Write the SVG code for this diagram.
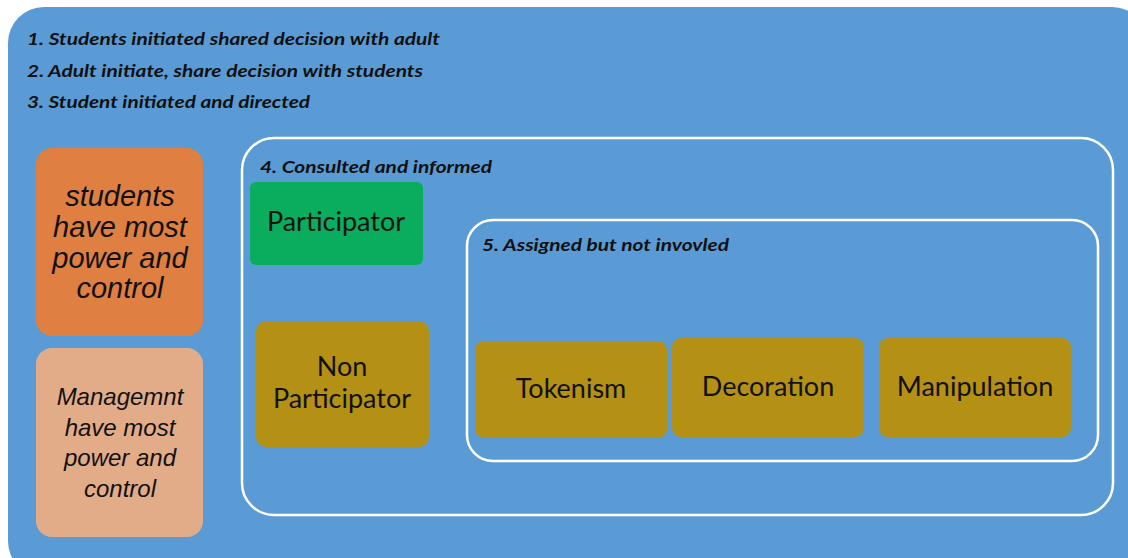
<svg xmlns="http://www.w3.org/2000/svg" width="1128" height="558" viewBox="0 0 1128 558">
<style>
.hdr{font-family:Lato,"Open Sans",sans-serif;font-weight:bold;font-style:italic;font-size:17px;fill:#111}
.cal{font-family:Lato,"Open Sans",sans-serif;font-size:27px;fill:#111;text-anchor:middle}
.ari{font-family:"Liberation Sans",Arial,sans-serif;font-style:italic;fill:#111;text-anchor:middle}
.frame{fill:none;stroke:#fff;stroke-width:2.5}
.olive{fill:#B49014}
</style>
<rect width="1128" height="558" fill="#fff"/>
<g id="outer">
<rect x="8" y="7" width="1140" height="570" rx="36" fill="#5B9BD5"/>
<text class="hdr" x="27" y="45" textLength="413" lengthAdjust="spacingAndGlyphs">1. Students initiated shared decision with adult</text>
<text class="hdr" x="27" y="77" textLength="396" lengthAdjust="spacingAndGlyphs">2. Adult initiate, share decision with students</text>
<text class="hdr" x="27" y="108" textLength="283" lengthAdjust="spacingAndGlyphs">3. Student initiated and directed</text>
</g>
<g id="students">
<rect x="36" y="148" width="167" height="188" rx="16" fill="#DF7F41"/>
<text class="ari" font-size="29" x="120" y="206">students</text>
<text class="ari" font-size="29" x="120" y="237">have most</text>
<text class="ari" font-size="29" x="120" y="268">power and</text>
<text class="ari" font-size="29" x="120" y="298">control</text>
</g>
<g id="management">
<rect x="36" y="348" width="167" height="189" rx="16" fill="#E3AC88"/>
<text class="ari" font-size="24" x="120" y="405">Managemnt</text>
<text class="ari" font-size="24" x="120" y="436">have most</text>
<text class="ari" font-size="24" x="120" y="466">power and</text>
<text class="ari" font-size="24" x="120" y="497">control</text>
</g>
<g id="consulted">
<rect class="frame" x="242" y="138" width="871" height="377" rx="32"/>
<text class="hdr" x="260" y="173" textLength="232" lengthAdjust="spacingAndGlyphs">4. Consulted and informed</text>
</g>
<g id="participator">
<rect x="250" y="182" width="173" height="83" rx="6" fill="#0AAD5E"/>
<text class="cal" x="336" y="231">Participator</text>
</g>
<g id="nonparticipator">
<rect class="olive" x="256" y="321" width="173" height="126" rx="10"/>
<text class="cal" x="342" y="376">Non</text>
<text class="cal" x="342" y="408">Participator</text>
</g>
<g id="assigned">
<rect class="frame" x="467" y="220" width="631" height="241" rx="26"/>
<text class="hdr" x="482" y="251" textLength="247" lengthAdjust="spacingAndGlyphs">5. Assigned but not invovled</text>
</g>
<g id="tokenism">
<rect class="olive" x="475" y="341" width="192" height="97" rx="9"/>
<text class="cal" x="571" y="398">Tokenism</text>
</g>
<g id="decoration">
<rect class="olive" x="672" y="338" width="192" height="99" rx="9"/>
<text class="cal" x="768" y="396">Decoration</text>
</g>
<g id="manipulation">
<rect class="olive" x="879" y="338" width="192" height="99" rx="9"/>
<text class="cal" x="975" y="396">Manipulation</text>
</g>
<g id="connectors"></g>
</svg>
